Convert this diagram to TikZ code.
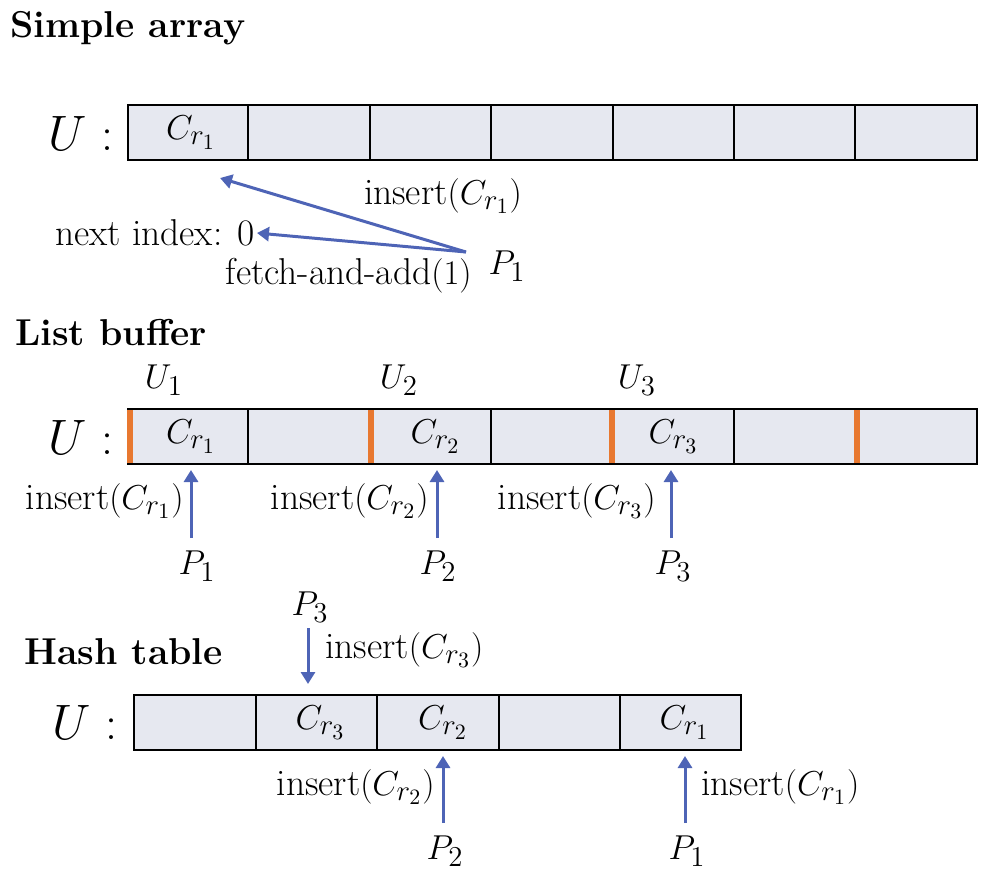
\documentclass[tikz,border=0pt]{standalone}
\usetikzlibrary{arrows.meta,calc}
\DeclareMathSizes{18.7}{18.7}{13.6}{10.5}
\DeclareMathSizes{24}{24}{17}{12}
\definecolor{cellfill}{RGB}{230,232,240}
\definecolor{arrblue}{RGB}{78,100,182}
\definecolor{mark}{RGB}{232,120,48}
\begin{document}
\begin{tikzpicture}[x=0.5pt,y=-0.5pt,
  every node/.style={font=\fontsize{18.7}{22}\selectfont, inner sep=1pt},
  cell/.style={draw=black, line width=0.8pt, fill=cellfill, minimum height=27.5pt, inner sep=0pt},
  title/.style={font=\fontsize{18.7}{22}\selectfont\bfseries},
  ulabel/.style={font=\fontsize{24}{28}\selectfont, anchor=east},
  parrow/.style={draw=arrblue, line width=1.5pt, -{Triangle[width=7pt,length=6pt]}},
  orangemark/.style={draw=mark, line width=2.6pt}]
\useasboundingbox (0,0) rectangle (992,880);

% ---------- Simple array ----------
\node[title, anchor=west] (t1) at (8,28) {Simple array};
\node[ulabel] (u1) at (116,133) {$U$ :};
\foreach \i/\xa/\xb in {1/128/248,2/248/370,3/370/491,4/491/613,5/613/734,6/734/855,7/855/977}{
  \node[cell, minimum width={(\xb-\xa)*0.5pt}] (a\i) at ({(\xa+\xb)/2},132.5) {};
}
\node at ($(a1)+(3,0)$) {$C_{r_1}$};
\coordinate (ins1) at (220,178);
\node[anchor=east] (ni) at (257,233) {next index: 0};
\node (sp1) at (507,266) {$P_1$};
\node (lbl1) at (443,196) {insert$(C_{r_1})$};
\node[anchor=east] (lbl2) at (474,276) {fetch-and-add$(1)$};
\coordinate (p1src) at (466,252);
\draw[parrow] (p1src) -- (ins1);
\draw[parrow] (p1src) -- (ni.east);

% ---------- List buffer ----------
\node[title, anchor=west] (t2) at (13,333) {List buffer};
\node[ulabel] (u2) at (116,437) {$U$ :};
\foreach \i/\xa/\xb in {1/128/248,2/248/370,3/370/491,4/491/613,5/613/734,6/734/855,7/855/977}{
  \node[cell, minimum width={(\xb-\xa)*0.5pt}] (b\i) at ({(\xa+\xb)/2},436.5) {};
}
\foreach \x in {130,371,612,857}{
  \draw[orangemark] (\x,410) -- (\x,463);
}
\node at ($(b1)+(3,0)$) {$C_{r_1}$};
\node at ($(b3)+(5,0)$) {$C_{r_2}$};
\node at (b5) {$C_{r_3}$};
\node (ub1) at (164,380) {$U_1$};
\node (ub2) at (399,380) {$U_2$};
\node (ub3) at (637,380) {$U_3$};
\node (lp1) at (197,566) {$P_1$};
\node (lp2) at (438,566) {$P_2$};
\node (lp3) at (673,566) {$P_3$};
\node[anchor=east] (li1) at (186,501) {insert$(C_{r_1})$};
\node[anchor=east] (li2) at (431,501) {insert$(C_{r_2})$};
\node[anchor=east] (li3) at (658,501) {insert$(C_{r_3})$};
\draw[parrow] (191,538) -- (191,470);
\draw[parrow] (437,538) -- (437,470);
\draw[parrow] (671,538) -- (671,470);

% ---------- Hash table ----------
\node[title, anchor=west] (t3) at (22,652) {Hash table};
\node[ulabel] (u3) at (120,722) {$U$ :};
\foreach \i/\xa/\xb in {1/134/256,2/256/377,3/377/499,4/499/620,5/620/741}{
  \node[cell, minimum width={(\xb-\xa)*0.5pt}] (h2\i) at ({(\xa+\xb)/2},722.5) {};
}
\node at ($(h22)+(4,0)$) {$C_{r_3}$};
\node at ($(h23)+(5,0)$) {$C_{r_2}$};
\node at ($(h25)+(4,0)$) {$C_{r_1}$};
\node (hp3) at (310,607) {$P_3$};
\node (hp2) at (445,851) {$P_2$};
\node (hp1) at (687,851) {$P_1$};
\node[anchor=west] (hi3) at (323,650) {insert$(C_{r_3})$};
\node[anchor=east] (hi2) at (437,787) {insert$(C_{r_2})$};
\node[anchor=west] (hi1) at (699,787) {insert$(C_{r_1})$};
\draw[parrow] (308,628) -- (308,684);
\draw[parrow] (443,823) -- (443,756);
\draw[parrow] (685,823) -- (685,756);
\end{tikzpicture}
\end{document}
